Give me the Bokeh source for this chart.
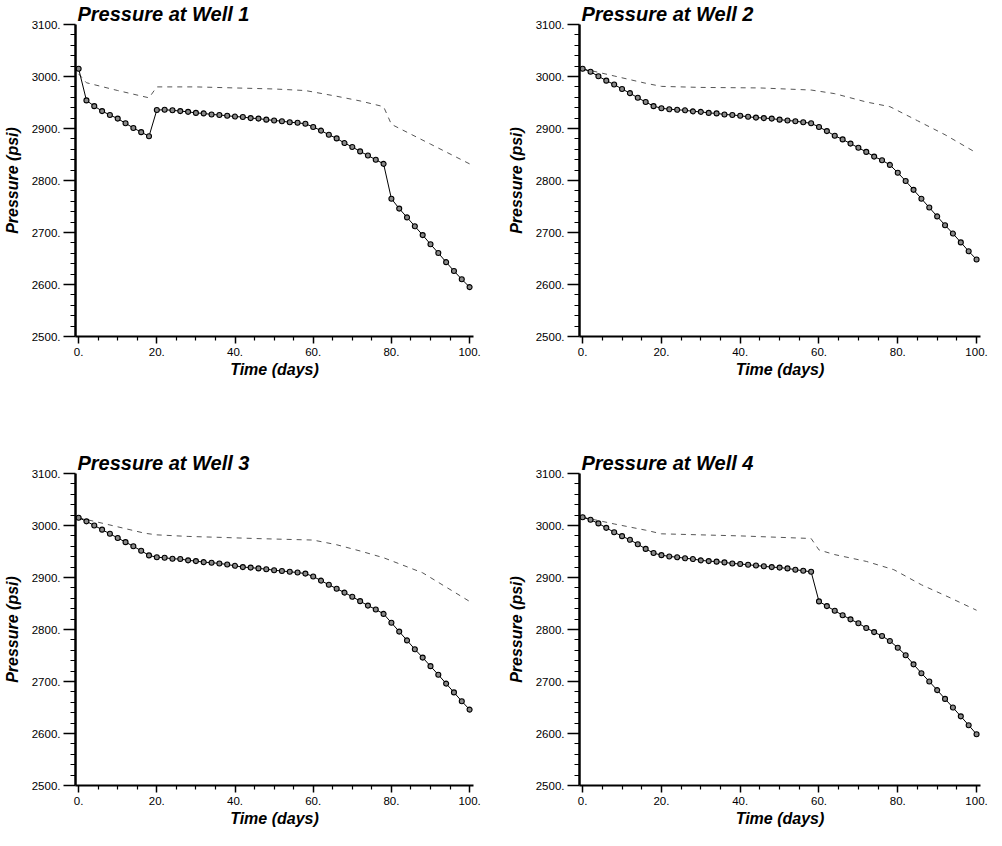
from bokeh.plotting import figure
from bokeh.layouts import column, row
from bokeh.models import FixedTicker, PrintfTickFormatter, Range1d
from bokeh.embed import file_html
from bokeh.resources import INLINE

# ---------------- data ----------------
time_days = [0, 2, 4, 6, 8, 10, 12, 14, 16, 18, 20, 22, 24, 26, 28, 30, 32, 34, 36, 38,
             40, 42, 44, 46, 48, 50, 52, 54, 56, 58, 60, 62, 64, 66, 68, 70, 72, 74, 76, 78,
             80, 82, 84, 86, 88, 90, 92, 94, 96, 98, 100]

well1_pressure = [3015, 2954, 2943, 2933.5, 2926, 2919, 2910, 2901, 2893, 2885,
                  2935.5, 2936, 2935, 2933.5, 2932, 2930, 2929, 2927, 2926, 2924.5,
                  2923, 2922, 2920, 2919, 2917, 2915.5, 2914, 2912, 2911, 2909,
                  2903, 2896, 2888, 2881, 2872, 2864.5, 2856, 2848, 2840, 2832,
                  2765, 2746, 2729, 2712, 2695, 2677.5, 2660.5, 2643, 2626, 2610, 2595]
well2_pressure = [3015, 3009, 3000.5, 2992, 2984.5, 2976, 2968, 2959, 2951, 2943,
                  2939, 2937, 2936, 2935, 2933, 2932, 2930, 2929, 2927, 2926,
                  2924.5, 2922.5, 2921, 2920, 2919, 2917, 2915.5, 2914, 2912, 2910,
                  2903, 2895, 2886, 2879, 2871, 2863, 2855, 2846, 2839, 2830,
                  2815, 2799, 2782, 2765, 2748, 2731, 2714, 2698, 2681, 2664, 2648]
well3_pressure = [3015, 3008, 3000, 2992, 2984, 2976, 2968, 2960, 2951.5, 2942.5,
                  2939, 2938, 2936, 2935.5, 2933, 2931.5, 2929.5, 2928.5, 2927, 2925,
                  2922.5, 2920, 2919, 2917.5, 2916, 2914, 2912.5, 2911, 2909.5, 2907.5,
                  2902, 2894, 2886, 2878.5, 2871, 2863, 2854.5, 2846, 2838.5, 2830,
                  2813, 2796, 2779, 2762, 2746, 2729.5, 2713, 2696, 2679, 2662, 2646]
well4_pressure = [3016, 3011, 3004, 2995.5, 2987, 2979.5, 2972.5, 2964, 2955, 2947,
                  2943, 2940.5, 2939, 2937, 2935.5, 2933, 2931.5, 2930.5, 2929, 2927,
                  2926, 2924.5, 2923, 2921.5, 2920, 2919, 2917.5, 2915, 2913, 2911,
                  2854, 2845, 2836, 2827.5, 2819.5, 2812, 2803, 2795, 2787.5, 2778,
                  2765, 2750.5, 2733, 2716, 2700, 2683.5, 2666.5, 2650, 2633, 2616, 2598.5]

# dashed comparison curves
well1_dash_t = [0, 2, 10, 18, 20, 30, 40, 50, 58, 66, 72, 78, 80, 90, 100]
well1_dash_p = [3005, 2988, 2973, 2959, 2980, 2980, 2978, 2976, 2973, 2962, 2953, 2942, 2908, 2870, 2832]
well2_dash_t = [0, 8, 16, 20, 30, 45, 58, 64, 72, 78, 85, 92, 100]
well2_dash_p = [3015, 3001, 2987, 2981, 2979, 2978, 2974, 2967, 2951, 2942, 2915, 2888, 2853]
well3_dash_t = [0, 8, 17, 20, 28, 37, 45, 60, 66, 72, 78, 88, 100]
well3_dash_p = [3015, 3001, 2985, 2982, 2979, 2977, 2975, 2972, 2963, 2951, 2938, 2909, 2854]
well4_dash_t = [0, 8, 16, 20, 40, 58, 60, 64, 72, 79, 86, 93, 100]
well4_dash_p = [3016, 3003, 2991, 2984, 2980, 2975, 2953, 2944, 2931, 2915, 2886, 2862, 2837]

titles = ["Pressure at Well 1", "Pressure at Well 2", "Pressure at Well 3", "Pressure at Well 4"]
x_major_ticks = [0, 20, 40, 60, 80, 100]
y_major_ticks = [2500, 2600, 2700, 2800, 2900, 3000, 3100]
x_label = "Time (days)"
y_label = "Pressure (psi)"

# ---------------- styling helpers ----------------
FONT = "Liberation Sans"
x_minor_ticks = [v for v in range(0, 101, 5) if v not in x_major_ticks]
y_minor_ticks = [v for v in range(2500, 3101, 20) if v not in y_major_ticks]


def make_panel(title, t, p, dt, dp, frame_w, bl, br, bt, bb):
    fig = figure(frame_width=frame_w, frame_height=312,
                 x_range=Range1d(-0.8, 101), y_range=Range1d(2500, 3100),
                 output_backend="svg", toolbar_location=None,
                 min_border_left=bl, min_border_right=br,
                 min_border_top=bt, min_border_bottom=bb,
                 title=title)
    fig.outline_line_color = None
    fig.grid.visible = False
    fig.background_fill_color = "white"
    fig.border_fill_color = "white"

    fig.title.text_font = FONT
    fig.title.text_font_size = "20px"
    fig.title.text_font_style = "bold italic"
    fig.title.text_color = "black"
    fig.title.align = "left"
    fig.title.standoff = 0
    fig.title.offset = 2

    fig.xaxis.ticker = FixedTicker(ticks=x_major_ticks, minor_ticks=x_minor_ticks)
    fig.yaxis.ticker = FixedTicker(ticks=y_major_ticks, minor_ticks=y_minor_ticks)
    fig.xaxis.formatter = PrintfTickFormatter(format="%d.")
    fig.yaxis.formatter = PrintfTickFormatter(format="%d.")

    for ax in (fig.xaxis[0], fig.yaxis[0]):
        ax.axis_line_color = "black"
        ax.major_tick_line_color = "black"
        ax.minor_tick_line_color = "black"
        ax.major_tick_in = 0
        ax.minor_tick_in = 0
        ax.major_label_text_font = FONT
        ax.major_label_text_font_size = "11.5px"
        ax.major_label_text_color = "black"
        ax.axis_label_text_font = FONT
        ax.axis_label_text_font_size = "16px"
        ax.axis_label_text_font_style = "bold italic"
        ax.axis_label_text_color = "black"

    xa = fig.xaxis[0]
    xa.axis_line_width = 2
    xa.major_tick_out = 7
    xa.minor_tick_out = 4
    xa.major_tick_line_width = 1.5
    xa.minor_tick_line_width = 1.2
    xa.major_label_standoff = 4
    xa.axis_label = x_label
    xa.axis_label_standoff = 2

    ya = fig.yaxis[0]
    ya.axis_line_width = 2.5
    ya.major_tick_out = 12
    ya.minor_tick_out = 5
    ya.major_tick_line_width = 1.5
    ya.minor_tick_line_width = 1.2
    ya.major_label_standoff = 3
    ya.axis_label = y_label
    ya.axis_label_standoff = 8

    fig.line(dt, dp, line_color="#555555", line_width=1, line_dash="5 5")
    fig.line(t, p, line_color="black", line_width=1)
    fig.scatter(t, p, marker="circle", size=5, line_color="black",
                line_width=1.1, fill_color="#8a8a8a")
    return fig


p1 = make_panel(titles[0], time_days, well1_pressure, well1_dash_t, well1_dash_p, 398, 71, 31, 21, 104)
p2 = make_panel(titles[1], time_days, well2_pressure, well2_dash_t, well2_dash_p, 401, 75, 10, 21, 104)
p3 = make_panel(titles[2], time_days, well3_pressure, well3_dash_t, well3_dash_p, 398, 71, 31, 33, 46)
p4 = make_panel(titles[3], time_days, well4_pressure, well4_dash_t, well4_dash_p, 401, 75, 10, 33, 46)

layout = column(row(p1, p2), row(p3, p4))

open("out.html", "w").write(file_html(layout, INLINE))
